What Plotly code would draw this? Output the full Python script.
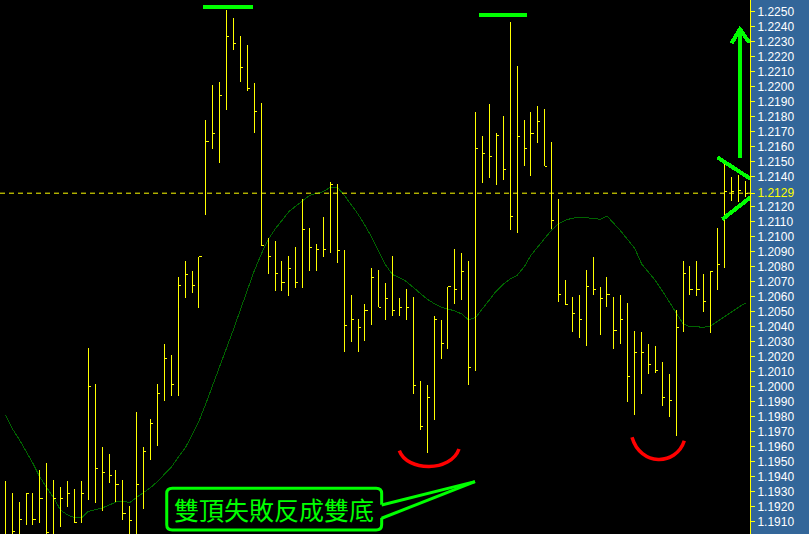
import plotly.graph_objects as go

# ---------------- data ----------------
highs = [1.19371, 1.19291, 1.19231, 1.19285, 1.19291, 1.19445, 1.19491, 1.19378, 1.19331, 1.19371,
         1.19318, 1.19371, 1.20258, 1.20018, 1.19598, 1.19551, 1.19445, 1.19378, 1.19205, 1.19831,
         1.19598, 1.19785, 1.20018, 1.20285, 1.20211, 1.20731, 1.20838, 1.20771, 1.20865, 1.21778,
         1.22011, 1.22031, 1.22511, 1.22458, 1.22338, 1.22278, 1.22025, 1.21889, 1.20989, 1.20971,
         1.20838, 1.20871, 1.20931, 1.21251, 1.21058, 1.20951, 1.21131, 1.21365, 1.21351, 1.20911,
         1.20611, 1.20451, 1.20551, 1.20791, 1.20778, 1.20691, 1.20871, 1.20591, 1.20651, 1.20598,
         1.20038, 1.20011, 1.20471, 1.20445, 1.20665, 1.20918, 1.20891, 1.20838, 1.21831, 1.21671,
         1.21885, 1.21691, 1.21805, 1.22431, 1.22138, 1.21778, 1.21831, 1.21871, 1.21851, 1.21631,
         1.21251, 1.20711, 1.20598, 1.20611, 1.20778, 1.20865, 1.20665, 1.20731, 1.20598, 1.20611,
         1.20558, 1.20371, 1.20365, 1.20285, 1.20271, 1.20165, 1.20085, 1.20511, 1.20838, 1.20805,
         1.20838, 1.20751, 1.20771, 1.21058, 1.21485, 1.21400, 1.21411, 1.21373]
lows = [1.18900, 1.18950, 1.18930, 1.19080, 1.19080, 1.19093, 1.18950, 1.18960, 1.19065, 1.19198,
        1.19089, 1.19093, 1.19245, 1.19227, 1.19173, 1.19360, 1.19229, 1.19111, 1.18970, 1.18980,
        1.19185, 1.19511, 1.19605, 1.19905, 1.19938, 1.19938, 1.20591, 1.20625, 1.20525, 1.21145,
        1.21587, 1.21491, 1.21847, 1.22245, 1.22031, 1.21971, 1.21691, 1.20943, 1.20751, 1.20640,
        1.20640, 1.20605, 1.20658, 1.20658, 1.20773, 1.20773, 1.20865, 1.20891, 1.20825, 1.20231,
        1.20298, 1.20231, 1.20305, 1.20411, 1.20531, 1.20445, 1.20471, 1.20471, 1.20445, 1.19951,
        1.19711, 1.19558, 1.19778, 1.20185, 1.20251, 1.20551, 1.20578, 1.20011, 1.20105, 1.21358,
        1.21391, 1.21345, 1.21378, 1.21045, 1.21025, 1.21471, 1.21405, 1.21625, 1.21471, 1.21053,
        1.20565, 1.20551, 1.20365, 1.20325, 1.20271, 1.20611, 1.20345, 1.20531, 1.20251, 1.20285,
        1.19898, 1.19811, 1.19951, 1.20085, 1.20091, 1.19871, 1.19798, 1.19671, 1.20365, 1.20611,
        1.20605, 1.20498, 1.20358, 1.20645, 1.20791, 1.21238, 1.21233, 1.21267]
closes = [1.18970, 1.19033, 1.19116, 1.19285, 1.19116, 1.19256, 1.19029, 1.19256, 1.19256, 1.19285,
          1.19096, 1.19285, 1.20003, 1.19456, 1.19429, 1.19411, 1.19351, 1.19158, 1.19109, 1.19351,
          1.19569, 1.19758, 1.19958, 1.20191, 1.20018, 1.20678, 1.20751, 1.20678, 1.20865, 1.21636,
          1.21689, 1.21943, 1.22336, 1.22289, 1.22129, 1.21990, 1.21836, 1.20943, 1.20871, 1.20758,
          1.20698, 1.20791, 1.20698, 1.21051, 1.20931, 1.20918, 1.20918, 1.21351, 1.20911, 1.20409,
          1.20445, 1.20398, 1.20505, 1.20725, 1.20531, 1.20591, 1.20511, 1.20525, 1.20525, 1.20011,
          1.19738, 1.19925, 1.20445, 1.20285, 1.20665, 1.20645, 1.20771, 1.20125, 1.21585, 1.21553,
          1.21538, 1.21678, 1.21445, 1.21138, 1.21671, 1.21591, 1.21691, 1.21771, 1.21471, 1.21109,
          1.20618, 1.20551, 1.20491, 1.20451, 1.20671, 1.20651, 1.20591, 1.20618, 1.20378, 1.20451,
          1.20071, 1.20225, 1.20225, 1.20145, 1.20111, 1.19925, 1.19911, 1.20398, 1.20758, 1.20651,
          1.20645, 1.20571, 1.20765, 1.20818, 1.21300, 1.21300, 1.21311, 1.21290]
ma = [1.19814, 1.19721, 1.19649, 1.19570, 1.19488, 1.19397, 1.19328, 1.19258, 1.19176, 1.19146,
      1.19126, 1.19125, 1.19169, 1.19178, 1.19191, 1.19211, 1.19231, 1.19238, 1.19227, 1.19263,
      1.19295, 1.19327, 1.19368, 1.19415, 1.19464, 1.19529, 1.19591, 1.19677, 1.19770, 1.19888,
      1.20009, 1.20131, 1.20256, 1.20383, 1.20514, 1.20646, 1.20773, 1.20883, 1.20981, 1.21050,
      1.21112, 1.21167, 1.21204, 1.21240, 1.21276, 1.21289, 1.21301, 1.21329, 1.21329, 1.21277,
      1.21215, 1.21151, 1.21076, 1.20995, 1.20903, 1.20811, 1.20747, 1.20727, 1.20701, 1.20662,
      1.20621, 1.20583, 1.20555, 1.20531, 1.20518, 1.20505, 1.20485, 1.20445, 1.20461, 1.20521,
      1.20583, 1.20638, 1.20684, 1.20718, 1.20743, 1.20797, 1.20876, 1.20934, 1.20988, 1.21045,
      1.21086, 1.21111, 1.21123, 1.21131, 1.21127, 1.21121, 1.21116, 1.21139, 1.21090, 1.21037,
      1.20980, 1.20923, 1.20819, 1.20766, 1.20708, 1.20639, 1.20567, 1.20490, 1.20420, 1.20400,
      1.20398, 1.20397, 1.20405, 1.20437, 1.20469, 1.20499, 1.20529, 1.20557]
current_price = 1.2129
tick_values = [1.2250, 1.2240, 1.2230, 1.2220, 1.2210, 1.2200, 1.2190, 1.2180, 1.2170, 1.2160,
               1.2150, 1.2140, 1.2129, 1.2120, 1.2110, 1.2100, 1.2090, 1.2080, 1.2070, 1.2060,
               1.2050, 1.2040, 1.2030, 1.2020, 1.2010, 1.2000, 1.1990, 1.1980, 1.1970, 1.1960,
               1.1950, 1.1940, 1.1930, 1.1920, 1.1910]
callout_text = "雙頂失敗反成雙底"

# hand-drawn annotation geometry, in (bar index, price) units
top_marks = [([28.6, 35.8], 1.22533), ([68.5, 75.5], 1.22480)]
arrow_shaft = ([106.23, 106.23], [1.21523, 1.22383])
arrow_head = ([105.0, 106.23, 107.6], [1.22289, 1.22383, 1.22293])
flag_lines = [([102.95, 108.4], [1.21529, 1.21367]), ([103.67, 108.5], [1.21116, 1.21289])]
arcs = [[(56.97, 1.19574), (58.1, 1.19431), (64.45, 1.19431), (65.6, 1.19585)],
        [(90.62, 1.19663), (91.8, 1.19470), (97.0, 1.19470), (98.18, 1.19640)]]
box_x = [23.34, 54.42]
box_y = [1.19045, 1.19323]
tail_tip = (67.91, 1.19367)
tail_base_y = [1.19211, 1.19123]
text_pos = (38.9, 1.19188)

YELLOW = "#FFFF00"
GREEN = "#00FF00"

# ---------------- figure ----------------
n = len(highs)
bx, by = [], []
tick_len = 0.38
for i in range(n):
    bx += [i, i, None, i, i + tick_len, None]
    by += [lows[i], highs[i], None, closes[i], closes[i], None]

fig = go.Figure()
fig.add_trace(go.Scatter(x=list(range(n)), y=ma, mode="lines",
                         line=dict(color="#006400", width=1), hoverinfo="skip"))
fig.add_trace(go.Scatter(x=bx, y=by, mode="lines",
                         line=dict(color=YELLOW, width=1), hoverinfo="skip"))

# green marks
gx, gy = [], []
for xs, yv in top_marks:
    gx += xs + [None]
    gy += [yv, yv, None]
gx += arrow_shaft[0] + [None] + arrow_head[0] + [None]
gy += arrow_shaft[1] + [None] + arrow_head[1] + [None]
for xs, ys in flag_lines:
    gx += xs + [None]
    gy += ys + [None]
fig.add_trace(go.Scatter(x=gx, y=gy, mode="lines",
                         line=dict(color=GREEN, width=4), hoverinfo="skip"))

shapes = []
shapes.append(dict(type="line", xref="paper", x0=0, x1=1, yref="y",
                   y0=current_price, y1=current_price,
                   line=dict(color=YELLOW, width=1, dash="5px,4px")))
for a in arcs:
    p = "M {},{} C {},{} {},{} {},{}".format(a[0][0], a[0][1], a[1][0], a[1][1],
                                              a[2][0], a[2][1], a[3][0], a[3][1])
    shapes.append(dict(type="path", path=p, xref="x", yref="y",
                       line=dict(color="#FF0000", width=3.5)))

# callout box
x0, x1 = box_x
y0, y1 = box_y
rx, ry = 0.8, 0.00035
box_path = ("M {a},{t} L {b},{t} Q {x1},{t} {x1},{c} L {x1},{d} Q {x1},{bot} {b},{bot} "
            "L {a},{bot} Q {x0},{bot} {x0},{d} L {x0},{c} Q {x0},{t} {a},{t} Z").format(
    a=x0 + rx, b=x1 - rx, t=y1, bot=y0, x0=x0, x1=x1, c=y1 - ry, d=y0 + ry)
shapes.append(dict(type="path", path=box_path, xref="x", yref="y",
                   fillcolor="black", line=dict(color=GREEN, width=3)))
tail_fill = "M {},{} L {},{} L {},{} Z".format(x1 - 0.3, tail_base_y[0], tail_tip[0], tail_tip[1],
                                               x1 - 0.3, tail_base_y[1])
shapes.append(dict(type="path", path=tail_fill, xref="x", yref="y",
                   fillcolor="black", line=dict(width=0)))
for by_ in tail_base_y:
    shapes.append(dict(type="line", xref="x", yref="y", x0=x1, y0=by_,
                       x1=tail_tip[0], y1=tail_tip[1], line=dict(color=GREEN, width=3)))

tick_text = []
for v in tick_values:
    s = "{:.4f}".format(v)
    if abs(v - current_price) < 1e-9:
        s = '<span style="color:#FFFF00">' + s + "</span>"
    tick_text.append(s)

fig.update_layout(
    width=809, height=534,
    margin=dict(l=0, r=59, t=0, b=0),
    paper_bgcolor="#336699",
    plot_bgcolor="black",
    showlegend=False,
    shapes=shapes,
    annotations=[dict(x=text_pos[0], y=text_pos[1], xref="x", yref="y",
                      text=callout_text, showarrow=False,
                      font=dict(family="Noto Sans CJK TC", size=25, color=GREEN))],
    xaxis=dict(visible=False, range=[-0.77, 107.68], fixedrange=True),
    yaxis=dict(side="right", range=[1.19018, 1.22578], showgrid=False, zeroline=False,
               tickmode="array", tickvals=tick_values, ticktext=tick_text,
               ticks="outside", ticklen=4, tickcolor=YELLOW, tickwidth=1,
               showline=True, linecolor=YELLOW, linewidth=1,
               tickfont=dict(family="Liberation Sans", size=12, color="white"),
               fixedrange=True),
)

post = ("document.body.style.margin='0';document.body.style.overflow='hidden';"
        "document.querySelectorAll('.scatterlayer path.js-line').forEach(function(p){"
        "p.style.shapeRendering='crispEdges';});")
fig.write_html("out.html", config={"displayModeBar": False}, post_script=post)
